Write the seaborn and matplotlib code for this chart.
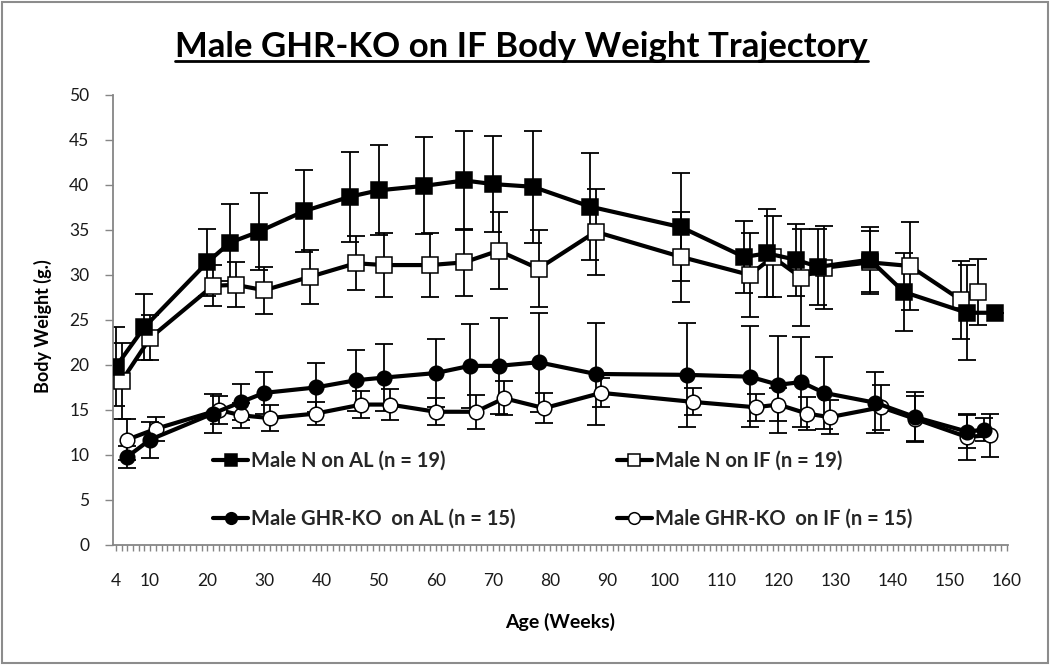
import numpy as np
import pandas as pd
import matplotlib
matplotlib.use("Agg")
import matplotlib.pyplot as plt
from matplotlib.lines import Line2D
from matplotlib.patches import Rectangle
import seaborn as sns

# -------------------------------------------------
# Data
# -------------------------------------------------
n_al_weeks = [4, 9, 20, 24, 29, 37, 45, 50, 58, 65, 70, 77, 87, 103, 114, 118, 123, 127, 136, 142, 153, 158]
n_al_mean = [19.8, 24.2, 31.4, 33.6, 34.8, 37.1, 38.7, 39.4, 39.9, 40.5, 40.1, 39.8, 37.6, 35.3,
             32.0, 32.4, 31.7, 30.9, 31.7, 28.1, 25.8, 25.8]
n_al_err = [4.4, 3.7, 3.7, 4.3, 4.3, 4.6, 5.0, 5.0, 5.4, 5.5, 5.3, 6.2, 5.9, 6.0,
            4.0, 4.9, 4.0, 4.2, 3.6, 4.3, 5.3, 0.0]

n_if_weeks = [5, 10, 21, 25, 30, 38, 46, 51, 59, 65, 71, 78, 88, 103, 115, 119, 124, 128, 136, 143, 152, 155]
n_if_mean = [18.2, 23.0, 28.8, 28.9, 28.3, 29.8, 31.3, 31.1, 31.1, 31.4, 32.7, 30.7, 34.8, 32.0,
             30.0, 32.0, 29.7, 30.8, 31.4, 31.0, 27.2, 28.1]
n_if_err = [4.2, 2.5, 2.3, 2.5, 2.6, 3.0, 3.0, 3.6, 3.6, 3.7, 4.3, 4.3, 4.8, 5.0,
            4.7, 4.5, 5.4, 4.6, 3.5, 4.9, 4.3, 3.7]

ko_al_weeks = [6, 10, 21, 26, 30, 39, 46, 51, 60, 66, 71, 78, 88, 104, 115, 120, 124, 128, 137, 144, 153, 156]
ko_al_mean = [9.8, 11.7, 14.6, 15.9, 16.9, 17.5, 18.3, 18.6, 19.1, 19.9, 19.9, 20.3, 19.0, 18.9,
              18.7, 17.8, 18.1, 16.9, 15.8, 14.2, 12.6, 12.8]
ko_al_err = [1.2, 2.0, 2.2, 2.0, 2.3, 2.7, 3.4, 3.7, 3.8, 4.7, 5.3, 5.5, 5.7, 5.8,
             5.6, 5.4, 5.0, 4.0, 3.4, 2.8, 1.8, 1.3]

ko_if_weeks = [6, 11, 22, 26, 31, 39, 47, 52, 60, 67, 72, 79, 89, 105, 116, 120, 125, 129, 138, 144, 153, 157]
ko_if_mean = [11.7, 12.9, 15.0, 14.4, 14.1, 14.6, 15.6, 15.6, 14.8, 14.8, 16.3, 15.2, 16.9, 15.9,
              15.3, 15.6, 14.6, 14.2, 15.3, 14.0, 12.0, 12.2]
ko_if_err = [2.3, 1.3, 1.6, 1.4, 1.4, 1.3, 1.5, 1.7, 1.5, 1.9, 1.9, 1.7, 1.6, 1.5,
             1.5, 1.8, 1.8, 1.9, 2.5, 2.5, 2.6, 2.4]

x_tick_labels = [4, 10, 20, 30, 40, 50, 60, 70, 80, 90, 100, 110, 120, 130, 140, 150, 160]
y_tick_labels = [0, 5, 10, 15, 20, 25, 30, 35, 40, 45, 50]

# -------------------------------------------------
# Style
# -------------------------------------------------
sns.set_theme(style="white")
plt.rcParams["font.family"] = ["Lato", "DejaVu Sans"]

fig = plt.figure(figsize=(10.5, 6.65), dpi=100)
ax = fig.add_axes([0.1076, 0.1805, 0.8524, 0.6767])

axis_grey = "#868686"

series = [
    # label, weeks, mean, err, marker, face, size
    ("Male N on IF (n = 19)", n_if_weeks, n_if_mean, n_if_err, "s", "white", 11),
    ("Male N on AL (n = 19)", n_al_weeks, n_al_mean, n_al_err, "s", "black", 11.5),
    ("Male GHR-KO  on IF (n = 15)", ko_if_weeks, ko_if_mean, ko_if_err, "o", "white", 10.5),
    ("Male GHR-KO  on AL (n = 15)", ko_al_weeks, ko_al_mean, ko_al_err, "o", "black", 10.5),
]

for label, wk, mean, err, mk, face, size in series:
    df = pd.DataFrame({"week": wk, "weight": mean, "sd": err})
    ax.errorbar(df["week"], df["weight"], yerr=df["sd"], fmt="none", ecolor="black",
                elinewidth=1.3, capsize=6.5, capthick=1.3, zorder=2)
    sns.lineplot(data=df, x="week", y="weight", ax=ax, estimator=None, sort=False,
                 color="black", linewidth=3, marker=mk, markersize=size,
                 markerfacecolor=face, markeredgecolor="black", markeredgewidth=1.1,
                 label=label, zorder=3)

# -------------------------------------------------
# Axes
# -------------------------------------------------
ax.set_xlim(3.5, 160.2)
ax.set_ylim(0, 50)
ax.set_xticks(x_tick_labels)
ax.set_xticks(np.arange(4, 161, 1), minor=True)
ax.set_yticks(y_tick_labels)
ax.tick_params(axis="x", which="both", direction="out", length=4, width=1,
               color=axis_grey, bottom=True, pad=16, labelsize=12.5, labelcolor="#1a1a1a")
ax.tick_params(axis="y", which="major", direction="out", length=6, width=1,
               color=axis_grey, left=True, pad=11, labelsize=12.5, labelcolor="#1a1a1a")

for side in ["top", "right"]:
    ax.spines[side].set_visible(False)
for side in ["left", "bottom"]:
    ax.spines[side].set_color(axis_grey)
    ax.spines[side].set_linewidth(1.3)

ax.set_xlabel("")
ax.set_ylabel("")
fig.text(0.041, 0.51, "Body Weight (g.)", rotation=90, ha="center", va="center",
         fontsize=13, fontweight="bold", color="black")
fig.text(0.533, 0.065, "Age (Weeks)", ha="center", va="center",
         fontsize=14, fontweight="bold", color="black")

# -------------------------------------------------
# Legend (two columns, inside the plot)
# -------------------------------------------------
ax.get_legend().remove()
hs, ls = ax.get_legend_handles_labels()
lut = dict(zip(ls, hs))
order = ["Male N on AL (n = 19)", "Male GHR-KO  on AL (n = 15)",
         "Male N on IF (n = 19)", "Male GHR-KO  on IF (n = 15)"]
fig.legend([lut[k] for k in order], order, loc="upper left",
           bbox_to_anchor=(0.203, 0.322), ncol=2, frameon=False,
           prop={"weight": "bold", "size": 14.5}, handlelength=1.75,
           handletextpad=0.15, columnspacing=5.0, labelspacing=1.9,
           borderpad=0, borderaxespad=0, markerscale=0.8)

# -------------------------------------------------
# Title with underline, figure border
# -------------------------------------------------
title = fig.text(0.497, 1 - 57 / 665, "Male GHR-KO on IF Body Weight Trajectory",
                 ha="center", va="baseline", fontsize=25, fontweight="bold", color="black")
fig.canvas.draw()
bb = title.get_window_extent(fig.canvas.get_renderer()).transformed(fig.transFigure.inverted())
fig.add_artist(Line2D([bb.x0, bb.x1], [1 - 61 / 665, 1 - 61 / 665], color="black",
                      linewidth=2, transform=fig.transFigure))

fig.add_artist(Rectangle((0.002, 0.003), 0.996, 0.994, transform=fig.transFigure,
                         fill=False, edgecolor="#8c8c8c", linewidth=1.5))

fig.savefig("out.png", dpi=100)
